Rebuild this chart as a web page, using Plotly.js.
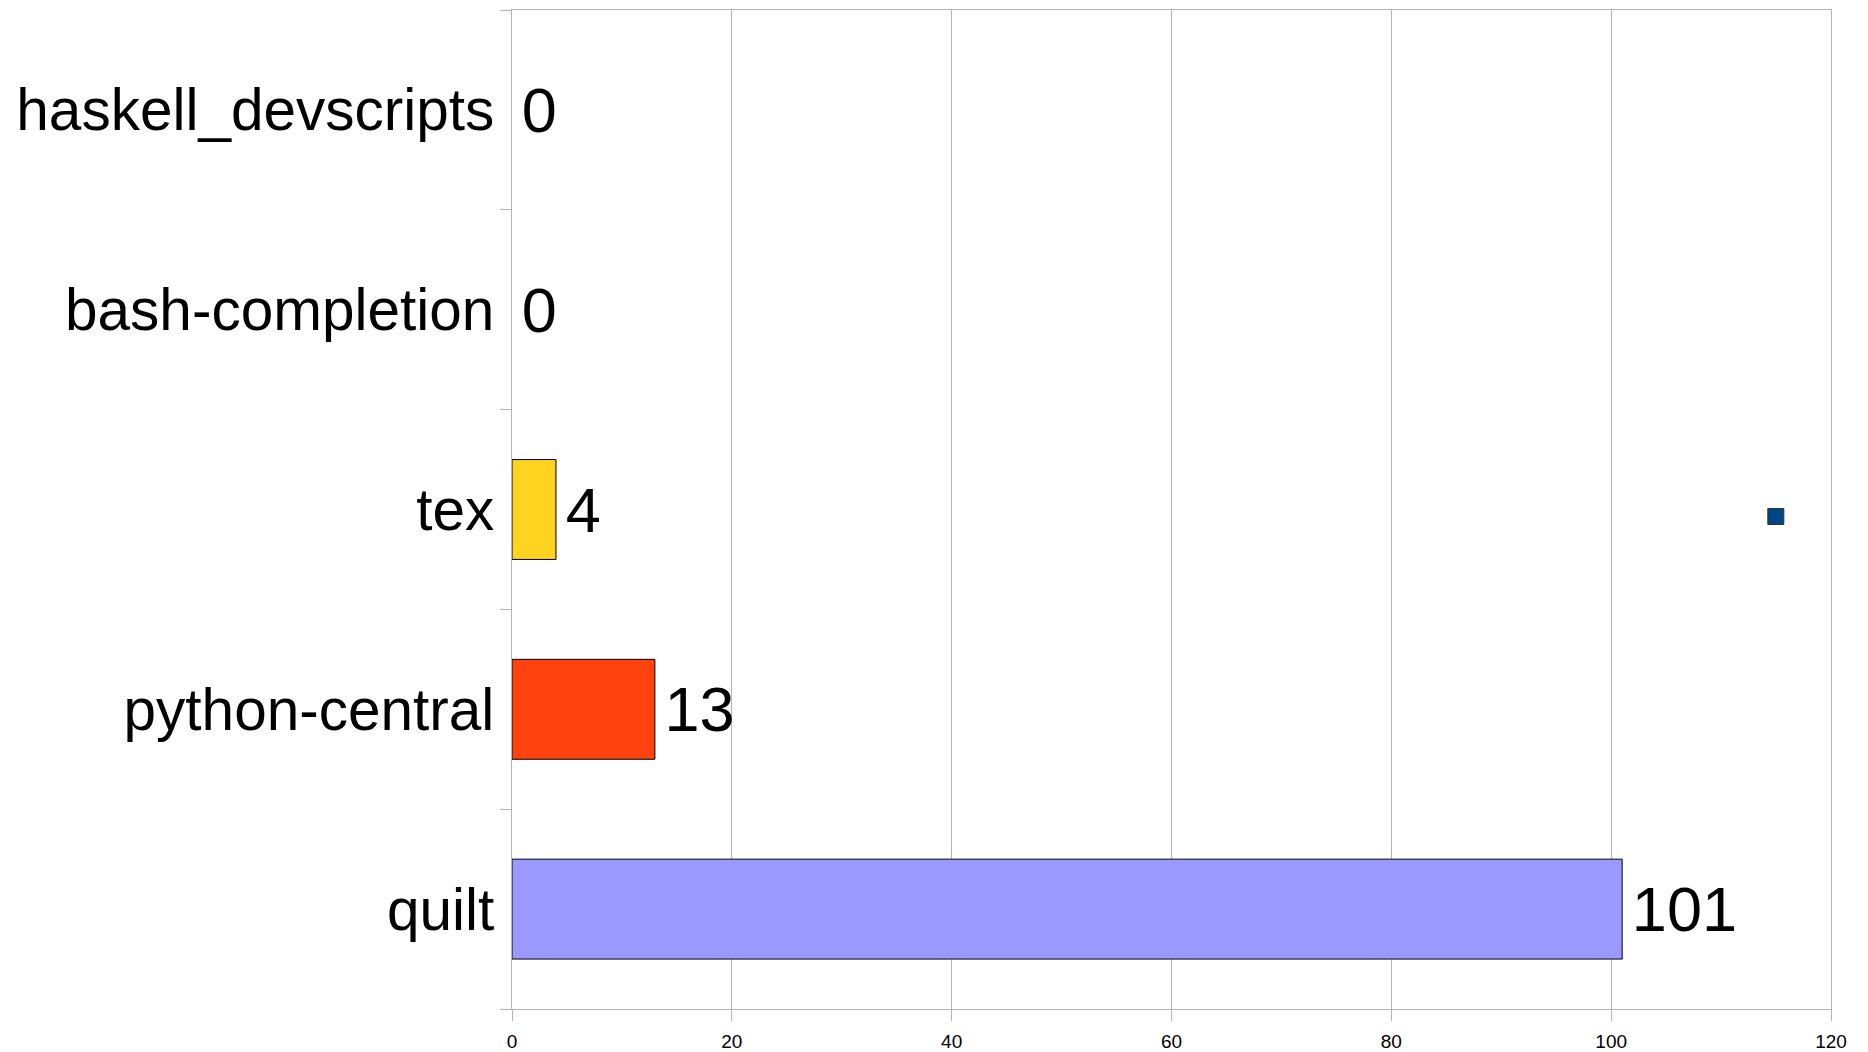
<!DOCTYPE html>
<html>
<head>
<meta charset="utf-8">
<script src="https://cdn.plot.ly/plotly-3.0.1.min.js"></script>
<style>
html,body{margin:0;padding:0;background:#fff;}
#chart{width:1868px;height:1052px;}
</style>
</head>
<body>
<div id="chart"></div>
<script>
// Data (bottom to top)
const categories = ["quilt", "python-central", "tex", "bash-completion", "haskell_devscripts"];
const values = [101, 13, 4, 0, 0];
const barColors = ["#9999ff", "#ff420e", "#ffd320", "#579d1c", "#7e0021"];
const xTickValues = [0, 20, 40, 60, 80, 100, 120];
const xTickLabels = ["0", "20", "40", "60", "80", "100", "120"];

const FONT = "Liberation Sans, Arial, sans-serif";

const bars = {
  type: "bar",
  orientation: "h",
  y: categories,
  x: values,
  width: 0.5,
  marker: {
    color: barColors,
    line: { color: "#000000", width: values.map(v => v === 0 ? 0 : 1) }
  },
  text: values.map(v => '<span style="font-size:24px">&nbsp;</span>' + v),
  textposition: "outside",
  textfont: { family: FONT, size: 63, color: "#000000" },
  cliponaxis: false,
  showlegend: false,
  hoverinfo: "none"
};

const legendTrace = {
  type: "scatter",
  mode: "markers",
  x: [null],
  y: [null],
  name: " ",
  marker: { symbol: "square", size: 16, color: "#004586", line: { color: "#333333", width: 1 } },
  showlegend: true,
  hoverinfo: "none"
};

const layout = {
  width: 1868,
  height: 1052,
  margin: { l: 512, r: 37, t: 10, b: 43, pad: 0 },
  paper_bgcolor: "#ffffff",
  plot_bgcolor: "#ffffff",
  font: { family: FONT, color: "#000000" },
  showlegend: true,
  legend: {
    x: 0.943, y: 0.493, xanchor: "left", yanchor: "middle",
    bgcolor: "rgba(0,0,0,0)", borderwidth: 0,
    itemwidth: 30, font: { size: 12 }
  },
  xaxis: {
    range: [0, 120],
    tickvals: xTickValues,
    ticktext: xTickLabels,
    tickfont: { family: FONT, size: 19, color: "#000000" },
    ticks: "outside", ticklen: 11, tickcolor: "#b3b3b3", tickwidth: 1,
    ticklabelstandoff: 4,
    showgrid: true, gridcolor: "#b3b3b3", gridwidth: 1,
    showline: true, linecolor: "#b3b3b3", linewidth: 1, mirror: true,
    zeroline: false,
    fixedrange: true
  },
  yaxis: {
    type: "category",
    categoryorder: "array",
    categoryarray: categories,
    range: [-0.5, 4.5],
    tickson: "boundaries",
    ticks: "outside", ticklen: 11, tickcolor: "#b3b3b3", tickwidth: 1,
    ticklabelstandoff: 5,
    tickfont: { family: FONT, size: 58.5, color: "#000000" },
    showgrid: false,
    showline: true, linecolor: "#b3b3b3", linewidth: 1, mirror: true,
    zeroline: false,
    fixedrange: true
  }
};

Plotly.newPlot("chart", [bars, legendTrace], layout, { staticPlot: true, displayModeBar: false });
</script>
</body>
</html>
